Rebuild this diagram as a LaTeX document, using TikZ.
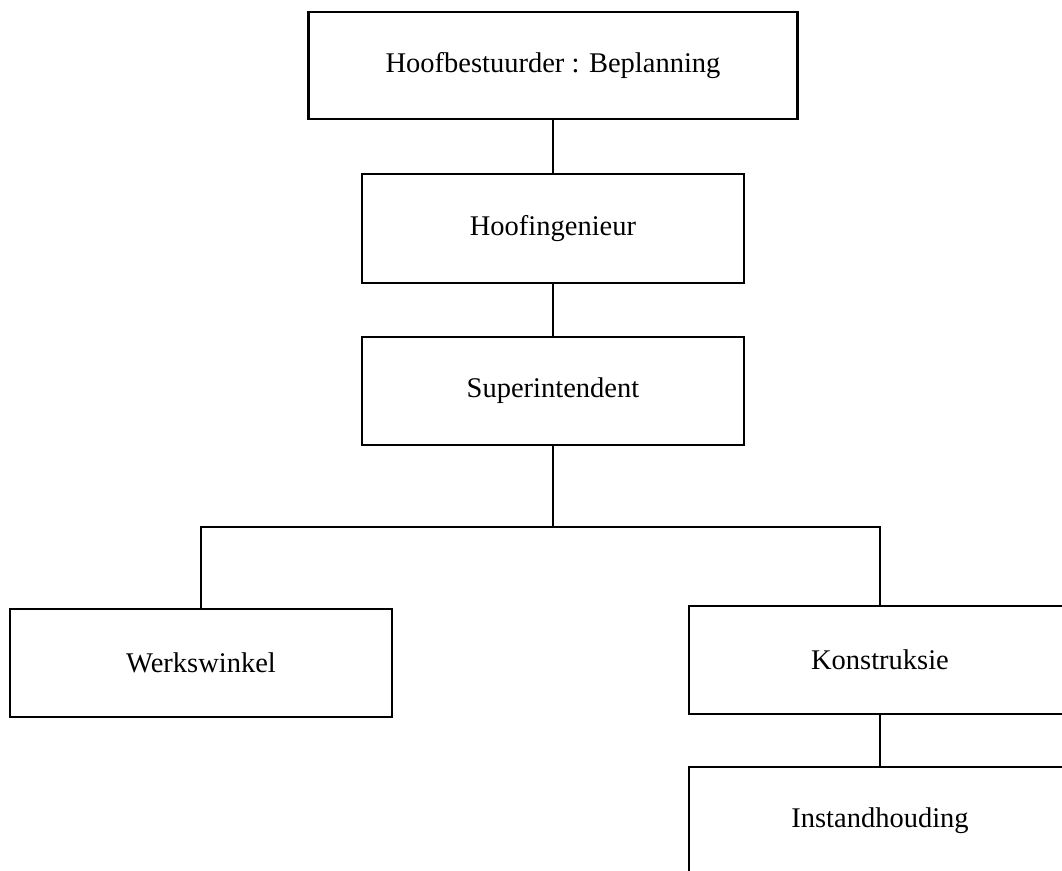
\documentclass[tikz,border=0pt]{standalone}
\usepackage{fontspec}
\setmainfont{Liberation Serif}
\begin{document}
\begin{tikzpicture}[x=1pt,y=-1pt,
  orgbox/.style={draw, line width=2.2pt, rectangle, inner sep=0pt,
    minimum width=382pt, minimum height=108pt,
    font=\fontsize{28.5}{32}\selectfont},
  link/.style={line width=2.2pt}]
  \useasboundingbox (0,0) rectangle (1062,870);
  \clip (0,0) rectangle (1062,870);
  % hierarchy boxes
  \node[orgbox, minimum width=489pt, minimum height=107pt] (b1) at (553,65.5) {Hoofbestuurder : Beplanning};
  \node[orgbox, minimum height=109pt] (b2) at (553,228.5) {Hoofingenieur};
  \node[orgbox] (b3) at (553,391) {Superintendent};
  \node[orgbox] (b4) at (201,663) {Werkswinkel};
  \node[orgbox] (b5) at (880,660) {Konstruksie};
  \node[orgbox] (b6) at (880,821) {Instandhouding};
  % connectors
  \coordinate (j) at (553,527);
  \draw[link] (b1.south) -- (b2.north);
  \draw[link] (b2.south) -- (b3.north);
  \draw[link] (b3.south) -- (j);
  \draw[link] (b4.north) |- (j) -| (b5.north);
  \draw[link] (b5.south) -- (b6.north);
\end{tikzpicture}
\end{document}
